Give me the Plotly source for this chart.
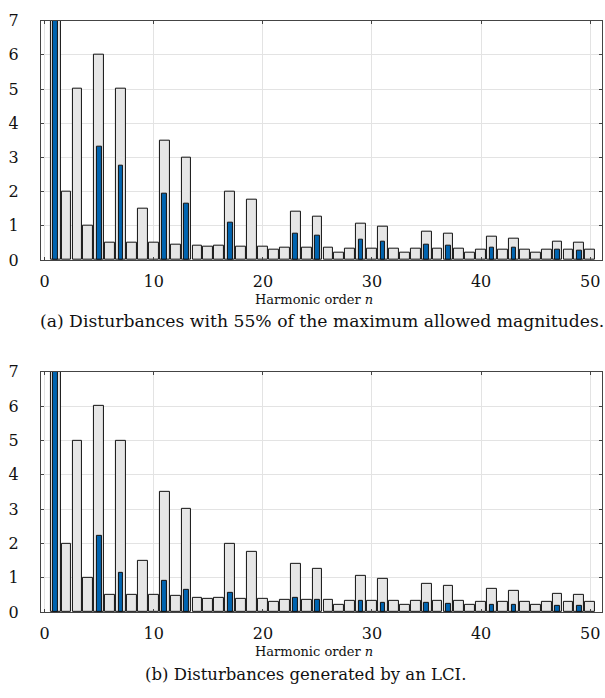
import plotly.graph_objects as go

# Harmonic orders
orders = list(range(1, 51))

# Compatibility limits (grey bars), % of fundamental (n=1 clipped)
limits = [100, 2, 5, 1, 6, 0.5, 5, 0.5, 1.5, 0.5,
          3.5, 0.46, 3, 0.43, 0.4, 0.41, 2, 0.39, 1.76, 0.38,
          0.3, 0.36, 1.41, 0.35, 1.27, 0.35, 0.2, 0.34, 1.06, 0.33,
          0.97, 0.33, 0.2, 0.32, 0.83, 0.32, 0.77, 0.32, 0.2, 0.31,
          0.67, 0.31, 0.63, 0.31, 0.2, 0.3, 0.54, 0.3, 0.51, 0.3]

# Orders that carry a disturbance (blue bars)
dist_orders = [1, 5, 7, 11, 13, 17, 23, 25, 29, 31, 35, 37, 41, 43, 47, 49]

# (a) 55 % of the maximum allowed magnitudes
dist_a = [55, 3.3, 2.75, 1.93, 1.65, 1.1, 0.78, 0.7, 0.58, 0.53,
          0.46, 0.42, 0.37, 0.35, 0.3, 0.28]

# (b) Disturbances generated by an LCI
dist_b = [100, 2.21, 1.13, 0.91, 0.65, 0.57, 0.42, 0.35, 0.33, 0.28,
          0.26, 0.23, 0.22, 0.21, 0.19, 0.19]

x_ticks = [0, 10, 20, 30, 40, 50]
y_ticks = [0, 1, 2, 3, 4, 5, 6, 7]

W, H = 605, 698
FONT = "DejaVu Serif"
GREY = "#e6e6e6"
BLUE = "#0064b0"

fig = go.Figure()

panels = [
    (dist_a, "x", "y"),
    (dist_b, "x2", "y2"),
]

for dist, xa, ya in panels:
    fig.add_trace(go.Bar(x=orders, y=limits, width=0.9, xaxis=xa, yaxis=ya,
                         marker=dict(color=GREY, line=dict(color="#111111", width=1)),
                         showlegend=False))
    fig.add_trace(go.Bar(x=dist_orders, y=dist, width=0.42, xaxis=xa, yaxis=ya,
                         marker=dict(color=BLUE, line=dict(color="#111111", width=1)),
                         showlegend=False))

x0, x1 = 40, 602
xr = [-0.34, 51.08]

common_x = dict(range=xr, tickvals=x_ticks, showgrid=True, gridcolor="#e3e3e3",
                gridwidth=1, zeroline=False, showline=True, linecolor="#444444",
                linewidth=1, mirror="ticks", ticks="inside", ticklen=3,
                tickcolor="#444444", tickfont=dict(family=FONT, size=16, color="#111111"),
                ticklabelstandoff=7)
common_y = dict(range=[0, 7], tickvals=y_ticks, showgrid=True, gridcolor="#e3e3e3",
                gridwidth=1, zeroline=False, showline=True, linecolor="#444444",
                linewidth=1, mirror="ticks", ticks="inside", ticklen=3,
                tickcolor="#444444", tickfont=dict(family=FONT, size=16, color="#111111"),
                ticklabelstandoff=18)

def ydom(top, bot):
    return [1 - bot / H, 1 - top / H]

fig.update_layout(
    width=W, height=H,
    margin=dict(l=0, r=0, t=0, b=0),
    paper_bgcolor="white", plot_bgcolor="white",
    barmode="overlay", bargap=0,
    font=dict(family=FONT),
    xaxis=dict(domain=[x0 / W, x1 / W], anchor="y", **common_x),
    yaxis=dict(domain=ydom(12, 258), anchor="x", **common_y),
    xaxis2=dict(domain=[x0 / W, x1 / W], anchor="y2", **common_x),
    yaxis2=dict(domain=ydom(373, 620), anchor="x2", **common_y),
)

annots = [
    (299, 314, "Harmonic order <i>n</i>", 13),
    (321, 322, "(a) Disturbances with 55% of the maximum allowed magnitudes.", 17.2),
    (660, 314, "Harmonic order <i>n</i>", 13),
    (684, 305, "(b) Disturbances generated by an LCI.", 16.5),
]
for yc, xc, txt, sz in annots:
    fig.add_annotation(x=xc / W, y=1 - yc / H,
                       xref="paper", yref="paper", text=txt, showarrow=False,
                       xanchor="center", yanchor="middle",
                       font=dict(family=FONT, size=sz, color="#111111"))

fig.write_html("out.html")
